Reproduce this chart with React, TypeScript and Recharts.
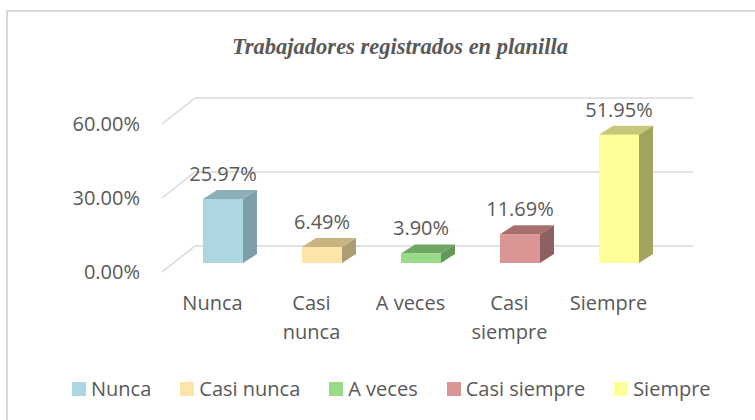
import { BarChart, Bar, XAxis, YAxis, CartesianGrid, Cell, LabelList } from "recharts";

const categories = ["Nunca", "Casi nunca", "A veces", "Casi siempre", "Siempre"];
const values = [25.97, 6.49, 3.9, 11.69, 51.95];
const yTicks = [0, 30, 60];

const frontColors = ["#add7e0", "#fee4a7", "#9adb8a", "#da9695", "#ffff99"];
const topColors = ["#8cafb8", "#c9b47f", "#70a663", "#a66f6e", "#c8c87a"];
const sideColors = ["#7e9fa7", "#ac9d73", "#65965a", "#8e605f", "#a3a35e"];

const data = categories.map((name, i) => ({ name, value: values[i] }));

const TEXT = "#595959";
const FONT = "'Open Sans', 'Noto Sans', sans-serif";
// 3d offsets: bar depth, floor front and back wall relative to the bar plane
const DEPTH = { dx: 14, dy: -9 };
const FRONT = { dx: -11, dy: 9 };
const BACK = { dx: 22, dy: -17 };

function Bar3D(props: any) {
  const { x, y, width, height, index } = props;
  if (height == null || width == null) return null;
  const r = x + width;
  const b = y + height;
  return (
    <g>
      <polygon
        points={`${x},${y} ${x + DEPTH.dx},${y + DEPTH.dy} ${r + DEPTH.dx},${y + DEPTH.dy} ${r},${y}`}
        fill={topColors[index]}
      />
      <polygon
        points={`${r},${y} ${r + DEPTH.dx},${y + DEPTH.dy} ${r + DEPTH.dx},${b + DEPTH.dy} ${r},${b}`}
        fill={sideColors[index]}
      />
      <rect x={x} y={y} width={width} height={height} fill={frontColors[index]} />
    </g>
  );
}

function GridLine(props: any) {
  const { x1, y1, x2, y2 } = props;
  return (
    <g key={props.key}>
      <line
        x1={x1 + FRONT.dx}
        y1={y1 + FRONT.dy}
        x2={x1 + BACK.dx}
        y2={y1 + BACK.dy}
        stroke="#d9d9d9"
        strokeWidth={1.5}
      />
      <line
        x1={x1 + BACK.dx}
        y1={y1 + BACK.dy}
        x2={x2 + BACK.dx + 3}
        y2={y2 + BACK.dy}
        stroke="#d9d9d9"
        strokeWidth={1.5}
      />
    </g>
  );
}

function YTick(props: any) {
  const { x, y, payload } = props;
  return (
    <text
      x={x - 33}
      y={y + FRONT.dy + 7}
      textAnchor="end"
      fill={TEXT}
      fontSize={20}
      fontFamily={FONT}
    >
      {payload.value.toFixed(2) + "%"}
    </text>
  );
}

function XTick(props: any) {
  const { x, y, payload } = props;
  const name: string = payload.value;
  const lines = name.length > 8 ? name.split(" ") : [name];
  return (
    <text x={x - 10} y={y + 47} textAnchor="middle" fill={TEXT} fontSize={20} fontFamily={FONT}>
      {lines.map((l, i) => (
        <tspan key={i} x={x - 10} dy={i === 0 ? 0 : 29}>
          {l}
        </tspan>
      ))}
    </text>
  );
}

function ValueLabel(props: any) {
  const { x, y, width, value } = props;
  return (
    <text
      x={x + width / 2}
      y={y - 25 + 7}
      textAnchor="middle"
      fill={TEXT}
      fontSize={20}
      fontFamily={FONT}
    >
      {Number(value).toFixed(2) + "%"}
    </text>
  );
}

export default function App() {
  return (
    <div
      style={{
        position: "fixed",
        left: 0,
        top: 0,
        width: 755,
        height: 420,
        overflow: "hidden",
        background: "#fff",
      }}
    >
      <div
        style={{
          position: "absolute",
          left: 6,
          top: 10,
          width: 800,
          height: 500,
          borderLeft: "2px solid #d9d9d9",
          borderTop: "2px solid #d9d9d9",
        }}
      />
      <div
        style={{
          position: "absolute",
          left: 0,
          width: 800,
          top: 32,
          textAlign: "center",
          fontFamily: "'Liberation Serif', 'Times New Roman', serif",
          fontStyle: "italic",
          fontWeight: "bold",
          fontSize: 22.5,
          lineHeight: "30px",
          color: TEXT,
        }}
      >
        Trabajadores registrados en planilla
      </div>
      <div style={{ position: "absolute", left: 0, top: 0 }}>
        <BarChart
          width={755}
          height={420}
          data={data}
          margin={{ top: 115, right: 87, bottom: 127, left: 113 }}
        >
          <CartesianGrid vertical={false} horizontal={GridLine} />
          <XAxis
            dataKey="name"
            axisLine={false}
            tickLine={false}
            tickSize={0}
            tickMargin={0}
            height={30}
            tick={XTick}
            interval={0}
          />
          <YAxis
            domain={[0, 60]}
            ticks={yTicks}
            axisLine={false}
            tickLine={false}
            tickSize={0}
            tickMargin={0}
            width={60}
            tick={YTick}
          />
          <Bar dataKey="value" barSize={40} shape={Bar3D} isAnimationActive={false}>
            {data.map((d, i) => (
              <Cell key={d.name} fill={frontColors[i]} />
            ))}
            <LabelList dataKey="value" content={ValueLabel} />
          </Bar>
        </BarChart>
      </div>
      <div
        style={{
          position: "absolute",
          left: 72,
          top: 376,
          display: "flex",
          alignItems: "center",
          fontFamily: FONT,
          fontSize: 20,
          color: TEXT,
          lineHeight: "26px",
        }}
      >
        {categories.map((c, i) => (
          <div key={c} style={{ display: "flex", alignItems: "center", marginRight: 29 }}>
            <span
              style={{
                display: "inline-block",
                width: 14,
                height: 14,
                background: frontColors[i],
                marginRight: 5,
              }}
            />
            {c}
          </div>
        ))}
      </div>
    </div>
  );
}
